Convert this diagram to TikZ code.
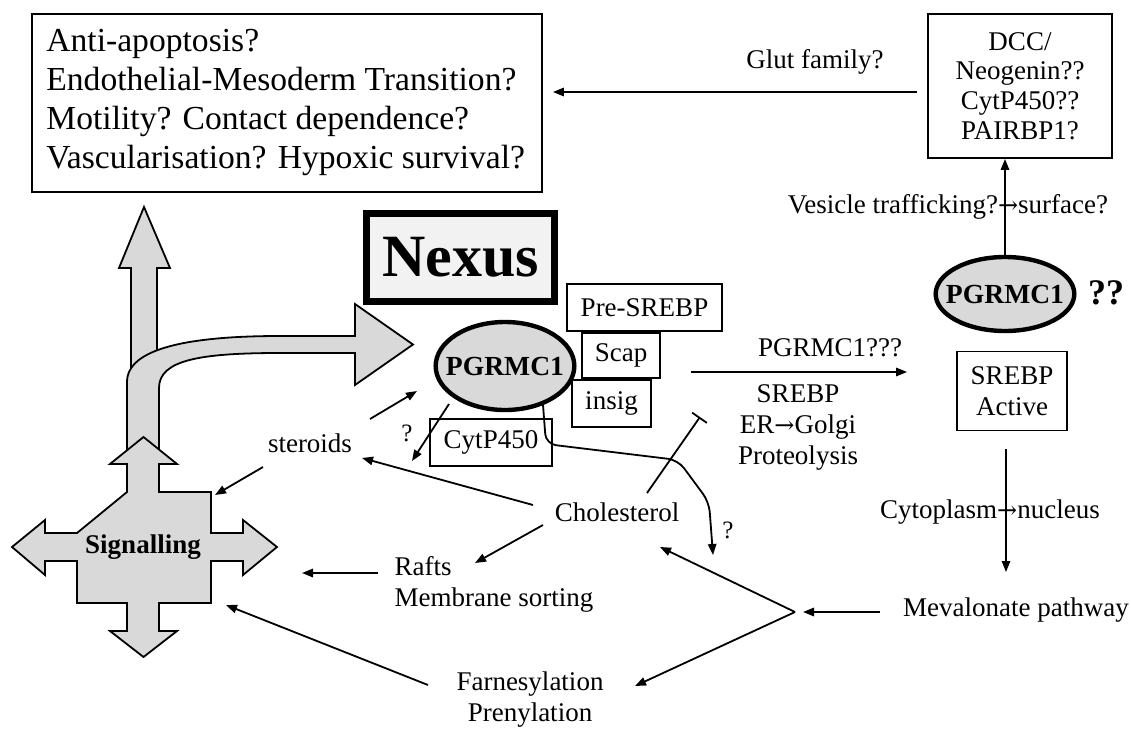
\documentclass[tikz,border=0pt]{standalone}
\usepackage{fontspec}
\setmainfont{Liberation Serif}
\newfontfamily\arrowfont{DejaVu Serif}
\newcommand{\rarr}{{\arrowfont\fontsize{12}{14}\selectfont\char"2192}}
\usetikzlibrary{arrows.meta,shapes.geometric}
\definecolor{boxgray}{HTML}{D9D9D9}
\definecolor{nexusgray}{HTML}{F2F2F2}
\begin{document}
\begin{tikzpicture}[x=0.5pt,y=-0.5pt,
  txt/.style={font=\fontsize{13.5}{15.5}\selectfont, inner sep=0pt, align=center},
  qtxt/.style={font=\fontsize{12.5}{14}\selectfont, inner sep=0pt},
  plainbox/.style={draw, line width=0.9pt, inner sep=0pt, font=\fontsize{13.5}{15.5}\selectfont, align=center},
  protein/.style={ellipse, draw, line width=2.2pt, fill=boxgray, inner xsep=-5pt, inner ysep=-2pt, minimum width=68.5pt, minimum height=44pt, font=\bfseries\fontsize{13.8}{15}\selectfont},
  arr/.style={line width=0.9pt, -{Triangle[length=5.5pt,width=4.2pt]}},
  bigarrow/.style={draw, fill=boxgray, line width=0.9pt, line join=miter}
]
\useasboundingbox (0,0) rectangle (1131,729);

% outcome box
\node[draw, line width=0.9pt, inner sep=0pt, minimum width=255pt, minimum height=89pt] (outcomes) at (287,103) {};
\node[anchor=west, inner sep=0pt, align=left, font=\fontsize{16.8}{19.5}\selectfont] (outtext) at (46,102)
  {Anti-apoptosis?\\Endothelial-Mesoderm Transition?\\Motility? Contact dependence?\\Vascularisation? Hypoxic survival?};

% right top box
\node[plainbox, minimum width=92pt, minimum height=72pt, font=\fontsize{13.5}{14.8}\selectfont] (rbox) at (1020,86)
  {DCC/\\Neogenin??\\CytP450??\\PAIRBP1?};
\node[txt] (glut) at (815,62) {Glut family?};
\draw[arr] ([shift={(-10,6)}]rbox.west) -- ([shift={(10,-11)}]outcomes.east);

% right PGRMC1
\node[protein, minimum height=37pt] (p2) at (1005,294) {PGRMC1};
\node[inner sep=0pt, font=\bfseries\fontsize{18}{20}\selectfont] (qq) at (1106,293) {??};
\draw[arr] (p2.north) -- (p2.north |- rbox.south);
\node[txt] (vesicle) at (948,207) {Vesicle trafficking?\rarr surface?};

% SREBP active
\node[plainbox, minimum width=55pt, minimum height=39.5pt] (sreb) at (1012,391) {SREBP\\Active};
\node[txt] (meval) at (1016,610) {Mevalonate pathway};
\draw[arr] ([shift={(-6,18)}]sreb.south) -- ([shift={(-10,-38)}]meval.center);
\node[txt] (cyto) at (990,512) {Cytoplasm\rarr nucleus};

% big grey arrows
\path[bigarrow] (131,420) -- (131,268) -- (119,268) -- (144,207) -- (170,268) -- (157,268) -- (157,420) -- cycle;
\path[bigarrow] (127,470) -- (127,382) .. controls (127,348) and (190,336) .. (280,336) -- (355,336) -- (355,304)
   -- (413,344.5) -- (355,385) -- (355,353) -- (280,353) .. controls (200,353) and (159,360) .. (159,388) -- (159,470) -- cycle;
\path[bigarrow] (127,492) -- (127,464) -- (110,464) -- (143.5,437) -- (177,464) -- (159,464) -- (159,492)
   -- (211,492) -- (211,533) -- (243,533) -- (243,520) -- (277,547) -- (243,575) -- (243,561) -- (211,561)
   -- (211,603) -- (159,603) -- (159,631) -- (177,631) -- (143.5,657) -- (110,631) -- (127,631) -- (127,603)
   -- (77,603) -- (77,561) -- (45,561) -- (45,575) -- (12,547) -- (45,520) -- (45,533) -- (77,533) -- cycle;
\node[inner sep=0pt, font=\bfseries\fontsize{13.5}{15}\selectfont] (sig) at (143,547) {Signalling};

% Nexus
\node[draw, line width=3.5pt, fill=nexusgray, minimum width=94pt, minimum height=44pt, inner sep=0pt,
      font=\bfseries\fontsize{30}{32}\selectfont] (nexus) at (460.5,257.5) {Nexus};

% left PGRMC1 complex
\node[protein] (p1) at (505,366) {PGRMC1};
\node[plainbox, minimum width=77.5pt, minimum height=23.5pt] (presrebp) at (644.5,307.5) {Pre-SREBP};
\node[plainbox, minimum width=39pt, minimum height=22.5pt] (scap) at (621,355.5) {Scap};
\node[plainbox, minimum width=39.5pt, minimum height=23.5pt] (insig) at (611.5,403.5) {insig};
\node[plainbox, minimum width=61pt, minimum height=23.5pt] (cyt) at (491,442.5) {CytP450};

% middle texts
\node[txt] (pg3) at (830,348) {PGRMC1???};
\node[txt] (srebmid) at (798,427) {SREBP\\ER\rarr Golgi\\Proteolysis};
\draw[arr] ([shift={(114.5,6)}]p1.east) -- ([shift={(-49,-19)}]sreb.west);

\node[txt] (steroids) at (310,443) {steroids};
\node[txt] (chol) at (617,512) {Cholesterol};
\node[txt, align=left] (rafts) at (494,584) {Rafts\\Membrane sorting};
\node[txt] (farn) at (530,700) {Farnesylation\\Prenylation};
\node[qtxt] (q1) at (407,433) {?};
\node[qtxt] (q2) at (728,530) {?};
\coordinate (apex) at (795,612);

\draw[arr] ([shift={(-136,2)}]meval.center) -- ([shift={(8,0)}]apex);
\draw[arr] (apex) -- ([shift={(43,35)}]chol.center);
\draw[arr] (apex) -- ([shift={(105,-14)}]farn.center);
\draw[arr] ([shift={(-84,-7)}]chol.center) -- ([shift={(52,15)}]steroids.center);
\draw[arr] ([shift={(-74,13)}]chol.center) -- ([shift={(-19,-21)}]rafts.center);
\draw[line width=0.9pt, -{Bar[width=9pt]}] ([shift={(30,-19)}]chol.center) -- ([shift={(83,-95)}]chol.center);
\draw[arr] ([shift={(-47,24)}]steroids.center) -- ([shift={(72,-52)}]sig.center);
\draw[arr] ([shift={(60,-24)}]steroids.center) -- ([shift={(-88,25)}]p1.center);
\draw[arr] ([shift={(-56,38)}]p1.center) -- ([shift={(-93,95)}]p1.center);
\draw[arr, rounded corners=5pt] ([shift={(38,39)}]p1.center) -- ++(3,39) -- ++(132,16) -- ++(31,42) -- ++(4,53);
\draw[arr] ([shift={(-116,-11)}]rafts.center) -- ([shift={(159,26)}]sig.center);
\draw[arr] ([shift={(-102,-15)}]farn.center) -- ([shift={(83,58)}]sig.center);
\end{tikzpicture}
\end{document}
